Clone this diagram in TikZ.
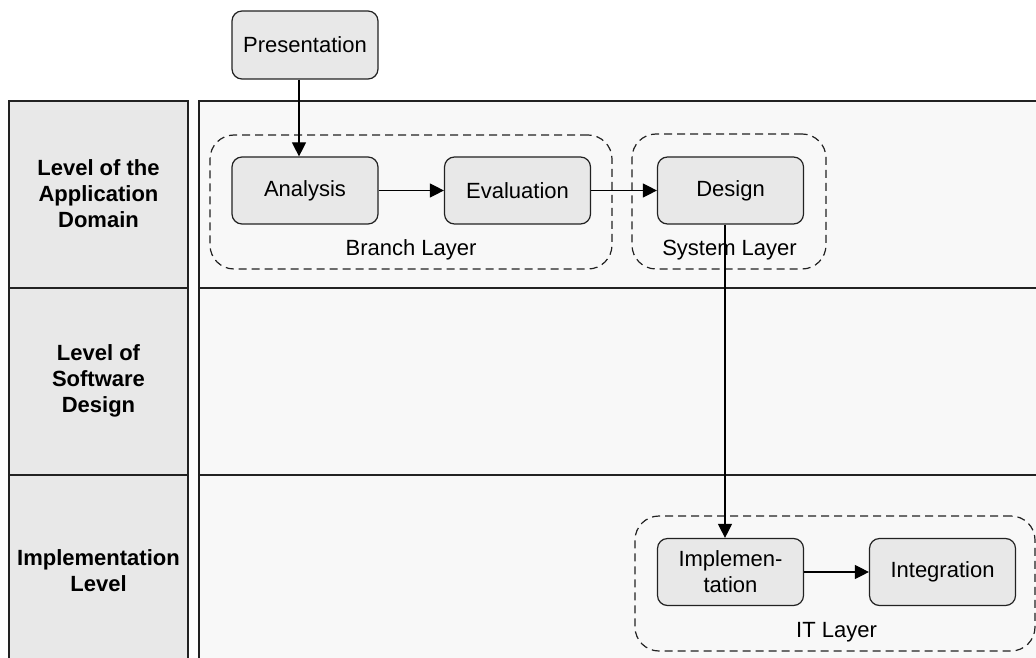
\documentclass[tikz,border=0pt]{standalone}
\usepackage{fontspec}
\setmainfont{Liberation Sans}
\usetikzlibrary{arrows.meta}
\definecolor{lanefill}{RGB}{248,248,248}
\definecolor{headfill}{RGB}{232,232,232}
\definecolor{boxfill}{RGB}{232,232,232}
\definecolor{edge}{RGB}{34,34,34}
\tikzset{
  lanehead/.style={draw=edge, line width=0.6pt, fill=headfill},
  headtext/.style={font=\fontsize{11}{13}\selectfont\bfseries, align=center},
  laneband/.style={draw=edge, line width=0.6pt, fill=lanefill},
  proc/.style={draw=edge, line width=0.6pt, fill=boxfill, rounded corners=5pt,
    minimum width=73pt, minimum height=33.5pt, inner sep=2pt, align=center,
    font=\fontsize{11}{13}\selectfont},
  layer/.style={draw=edge, line width=0.6pt, dash pattern=on 4pt off 2.5pt, rounded corners=12pt, inner sep=0pt},
  layerlabel/.style={font=\fontsize{11}{13}\selectfont, inner sep=0pt},
  flow/.style={draw=black, line width=0.6pt, -{Triangle[length=7pt,width=7pt]}},
}
\begin{document}
\begin{tikzpicture}[x=0.5pt,y=-0.5pt]
\clip (0,0) rectangle (1036,657);
\fill[white] (0,0) rectangle (1036,657);

% swimlane headers
\draw[lanehead] (9,101) rectangle (188,288);
\draw[lanehead] (9,288) rectangle (188,475);
\draw[lanehead] (9,475) rectangle (188,668);
\node[headtext] (h1) at (98.5,194) {Level of the\\Application\\Domain};
\node[headtext] (h2) at (98.5,381) {Level of\\Software\\Design};
\node[headtext] (h3) at (98.5,571) {Implementation\\Level};

% swimlane bodies
\draw[laneband] (199,101) rectangle (1050,288);
\draw[laneband] (199,288) rectangle (1050,475);
\draw[laneband] (199,475) rectangle (1050,668);

% layer groups
\node[layer, minimum width=201pt, minimum height=67pt] (branch) at (411,202) {};
\node[layer, minimum width=97pt, minimum height=67.5pt] (system) at (729,201.5) {};
\node[layer, minimum width=200pt, minimum height=67.5pt] (it) at (835,583.5) {};
\node[layerlabel] (branchlbl) at (411,250) {Branch Layer};
\node[layerlabel] (systemlbl) at (729.5,250) {System Layer};
\node[layerlabel] (itlbl) at (836.5,632) {IT Layer};

% process steps
\node[proc, minimum height=34pt] (pres) at (305,45) {Presentation};
\node[proc] (ana) at (305,190.5) {Analysis};
\node[proc] (eva) at (517.5,190.5) {Evaluation};
\node[proc] (des) at (730.5,190.5) {Design};
\node[proc] (impl) at (730.5,572) {Implemen-\\tation};
\node[proc] (integ) at (942.5,572) {Integration};

% flow
\draw[flow] ([xshift=-3pt]pres.south) -- ([xshift=-3pt]ana.north);
\draw[flow] (ana.east) -- (eva.west);
\draw[flow] (eva.east) -- (des.west);
\draw[flow] ([xshift=-2.75pt]des.south) -- ([xshift=-2.75pt]impl.north);
\draw[flow] (impl.east) -- (integ.west);
\end{tikzpicture}
\end{document}
